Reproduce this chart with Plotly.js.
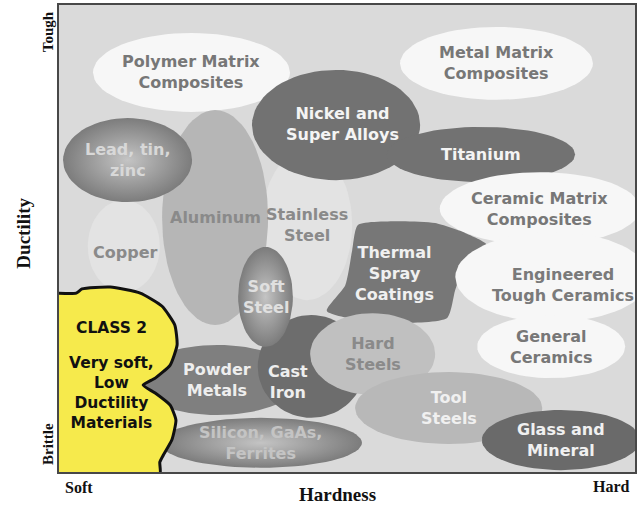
<!DOCTYPE html>
<html>
<head>
<meta charset="utf-8">
<script src="https://cdn.plot.ly/plotly-3.0.1.min.js"></script>
<style>
html, body { margin: 0; padding: 0; background: #fff; }
#plotArea { width: 641px; height: 508px; }
</style>
</head>
<body>
<div id="plotArea"></div>
<script>
// material families, hardness / ductility ranges on a 0-100 scale
var materials = ["Copper", "Stainless<br>Steel", "Polymer Matrix<br>Composites", "Metal Matrix<br>Composites",
    "Aluminum", "Lead, tin,<br>zinc", "Nickel and<br>Super Alloys", "Titanium", "Ceramic Matrix<br>Composites",
    "Engineered<br>Tough Ceramics", "General<br>Ceramics", "Powder<br>Metals", "Cast<br>Iron", "Soft<br>Steel",
    "Hard<br>Steels", "Tool<br>Steels", "Glass and<br>Mineral", "Silicon, GaAs,<br>Ferrites"];
var hardLo = [5.0, 35.2, 5.9, 59.2, 17.9, 0.7, 33.5, 56.9, 66.1, 68.8, 72.6, 13.2, 34.5, 31.1, 43.6, 51.4, 73.4, 17.5];
var hardHi = [17.5, 50.9, 40.1, 92.7, 36.3, 23.1, 62.7, 89.6, 100.9, 102.6, 98.3, 41.8, 53.1, 40.6, 65.3, 83.9, 100.9, 52.6];
var ductLo = [38.5, 36.8, 77.1, 79.7, 31.5, 57.8, 62.5, 62.1, 48.6, 32.1, 20.1, 12.2, 11.6, 26.8, 16.5, 6.0, 0.4, 0.9];
var ductHi = [58.2, 69.0, 94.0, 95.3, 77.5, 75.8, 86.1, 73.9, 64.2, 51.4, 33.6, 27.2, 33.6, 48.2, 34.0, 21.4, 13.3, 11.6];

// thermal spray coatings has an irregular outline
var thermalHard = [51.9, 59.2, 65.3, 70.5, 74.3, 70.5, 68.8, 67.4, 59.2, 52.3, 46.5, 49.7, 50.9];
var thermalDuct = [52.9, 53.7, 53.3, 51.2, 48.6, 44.3, 39.0, 33.0, 31.9, 32.5, 34.5, 40.0, 47.5];

// class 2 region outline
var class2Hard = [-0.5, 3.0, 4.0, 8.9, 14.1, 17.9, 20.1, 20.5, 19.3, 16.7, 14.6, 16.7, 19.3, 20.3, 19.6, 18.1, 17.5, 17.5, -0.5];
var class2Duct = [38.3, 38.3, 39.2, 39.6, 38.3, 35.5, 31.5, 27.2, 22.9, 20.1, 18.6, 16.9, 14.3, 11.1, 6.9, 3.6, 2.1, -0.5, -0.5];

var fills = ["#e3e3e3", "#e3e3e3", "#f7f7f7", "#f7f7f7", "#b6b6b6", "grad", "#727272", "#727272", "#f7f7f7",
    "#f7f7f7", "#f7f7f7", "#7f7f7f", "#6d6d6d", "grad", "#c0c0c0", "#b8b8b8", "#6a6a6a", "grad"];
var textColors = ["#8a8a8a", "#8a8a8a", "#777", "#777", "#8a8a8a", "#d8d8d8", "#f4f4f4", "#f4f4f4", "#777",
    "#7a7a7a", "#777", "#eee", "#eee", "#e0e0e0", "#8a8a8a", "#f0f0f0", "#f0f0f0", "#c4c4c4"];
// a few labels sit off centre
var labelNudge = { 0: [11.5, 46.9], 6: [49.3, 74.5], 9: [87.5, 40.0], 12: [39.8, 19.3] };

function ellipse(i) {
    var cx = (hardLo[i] + hardHi[i]) / 2, cy = (ductLo[i] + ductHi[i]) / 2;
    var rx = (hardHi[i] - hardLo[i]) / 2, ry = (ductHi[i] - ductLo[i]) / 2;
    var xs = [], ys = [];
    for (var k = 0; k <= 72; k++) {
        var t = k / 72 * 2 * Math.PI;
        xs.push(cx + rx * Math.cos(t));
        ys.push(cy + ry * Math.sin(t));
    }
    var trace = { x: xs, y: ys, mode: "lines", fill: "toself", line: { width: 0 }, hoverinfo: "skip" };
    if (fills[i] === "grad") {
        trace.fillcolor = "#999";
        trace.fillgradient = { type: "radial", colorscale: [[0, "#c4c4c4"], [1, "#7c7c7c"]] };
    } else {
        trace.fillcolor = fills[i];
    }
    return trace;
}

var data = [];
for (var i = 0; i < materials.length; i++) {
    data.push(ellipse(i));
    if (i === 8) {
        data.push({ x: thermalHard.concat([thermalHard[0]]), y: thermalDuct.concat([thermalDuct[0]]),
            mode: "lines", fill: "toself", fillcolor: "#777", line: { width: 0, shape: "spline", smoothing: 0.6 }, hoverinfo: "skip" });
    }
}
data.push({ x: class2Hard, y: class2Duct, mode: "lines", fill: "toself", fillcolor: "#f6ea4c",
    line: { color: "#111", width: 3, shape: "spline", smoothing: 0.5 }, hoverinfo: "skip" });

var annotations = [];
var sans = "DejaVu Sans, Verdana, sans-serif";
for (var i = 0; i < materials.length; i++) {
    var pos = labelNudge[i] || [(hardLo[i] + hardHi[i]) / 2, (ductLo[i] + ductHi[i]) / 2];
    annotations.push({ x: pos[0], y: pos[1], text: "<b>" + materials[i] + "</b>", showarrow: false,
        font: { family: sans, size: 16, color: textColors[i] } });
}
annotations.push({ x: 58.3, y: 42.6, text: "<b>Thermal<br>Spray<br>Coatings</b>", showarrow: false,
    font: { family: sans, size: 16, color: "#f0f0f0" } });
annotations.push({ x: 9.2, y: 30.8, text: "<b>CLASS 2</b>", showarrow: false,
    font: { family: sans, size: 15.5, color: "#111" } });
annotations.push({ x: 9.2, y: 17.0, text: "<b>Very soft,<br>Low<br>Ductility<br>Materials</b>", showarrow: false,
    font: { family: sans, size: 15.5, color: "#111" } });

var serif = "Liberation Serif, Times New Roman, serif";
var corner = [
    ["<b>Hardness</b>", 0.483, -0.049, 0, 19],
    ["<b>Ductility</b>", -0.062, 0.511, -90, 19],
    ["<b>Tough</b>", -0.019, 0.942, -90, 15],
    ["<b>Brittle</b>", -0.019, 0.060, -90, 15],
    ["<b>Soft</b>", 0.035, -0.034, 0, 16],
    ["<b>Hard</b>", 0.960, -0.032, 0, 16]
];
corner.forEach(function (c) {
    annotations.push({ xref: "paper", yref: "paper", x: c[1], y: c[2], xanchor: "center", yanchor: "middle",
        text: c[0], textangle: c[3], showarrow: false, font: { family: serif, size: c[4], color: "#111" } });
});

var axis = { range: [0, 100], showgrid: false, zeroline: false, showticklabels: false, ticks: "",
    showline: true, mirror: true, linecolor: "#484848", linewidth: 2, fixedrange: true };

var layout = {
    width: 641, height: 508,
    margin: { l: 59, r: 6, t: 5, b: 36 },
    paper_bgcolor: "#fff",
    plot_bgcolor: "#dadada",
    showlegend: false,
    xaxis: axis,
    yaxis: Object.assign({}, axis),
    annotations: annotations
};

Plotly.newPlot("plotArea", data, layout, { displayModeBar: false, staticPlot: true });
</script>
</body>
</html>
